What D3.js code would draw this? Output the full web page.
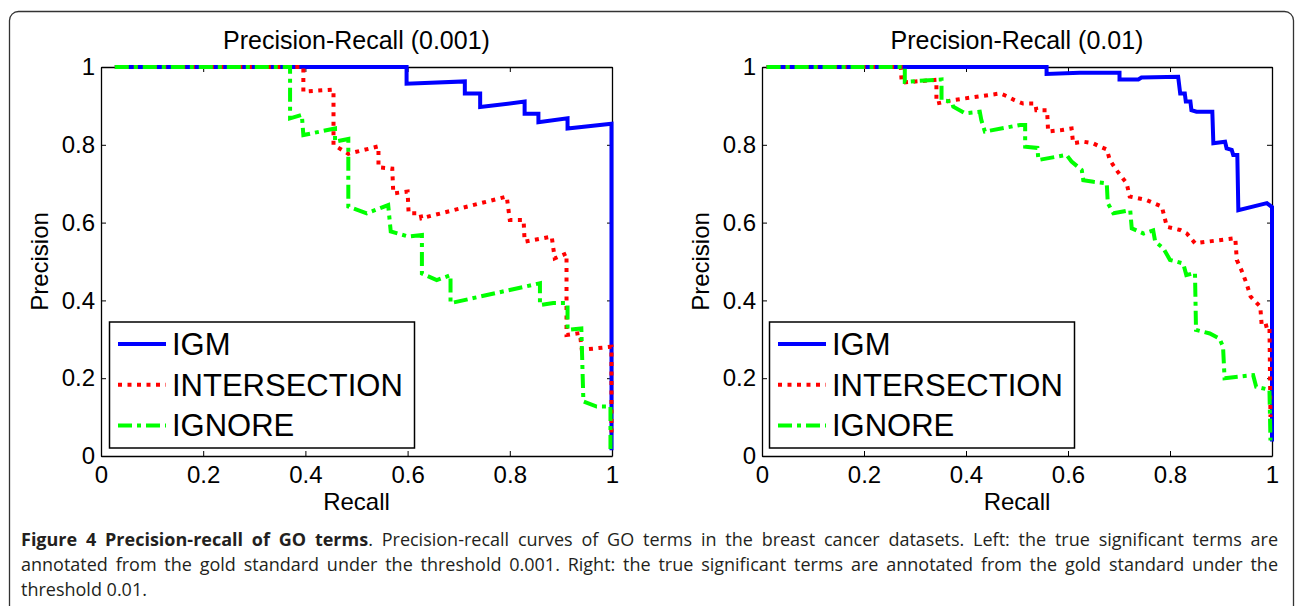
<!DOCTYPE html>
<html>
<head>
<meta charset="utf-8">
<script src="https://cdn.jsdelivr.net/npm/d3@7"></script>
<style>
  body { margin: 0; background: #fff; }
  svg { position: absolute; left: 0; top: 0; }
  #caption { position: absolute; left: 21px; top: 527px; width: 1257px;
             font-family: "Open Sans", sans-serif; font-size: 18px; line-height: 25px; color: #231f20; }
  #caption div { white-space: nowrap; }
  #caption .j { text-align: justify; text-align-last: justify; }
  #caption b { font-weight: 700; }
</style>
</head>
<body>
<svg id="chart" width="1296" height="606"></svg>
<div id="caption"></div>
<script>
// ---------------- data ----------------
const seriesNames = ["IGM", "INTERSECTION", "IGNORE"];
const titles = ["Precision-Recall (0.001)", "Precision-Recall (0.01)"];
const xLabel = "Recall";
const yLabel = "Precision";
const tickValues = [0, 0.2, 0.4, 0.6, 0.8, 1];
const tickLabels = ["0", "0.2", "0.4", "0.6", "0.8", "1"];

// left panel (threshold 0.001): [recall, precision]
const leftIGM = [[0.027,1],[0.598,1],[0.598,0.957],[0.712,0.963],[0.712,0.932],[0.742,0.932],[0.742,0.897],
  [0.829,0.911],[0.829,0.880],[0.856,0.880],[0.856,0.858],[0.913,0.868],[0.913,0.842],[0.999,0.854],[0.999,0.015]];
const leftINT = [[0.027,1],[0.396,1],[0.396,0.937],[0.455,0.942],[0.455,0.800],[0.484,0.777],[0.543,0.796],
  [0.543,0.742],[0.570,0.739],[0.572,0.675],[0.600,0.680],[0.602,0.624],[0.625,0.624],[0.627,0.611],
  [0.794,0.667],[0.800,0.607],[0.827,0.607],[0.829,0.551],[0.882,0.564],[0.888,0.508],[0.911,0.521],
  [0.911,0.311],[0.937,0.316],[0.941,0.273],[0.999,0.281],[0.999,0.05]];
const leftIGN = [[0.027,1],[0.370,1],[0.370,0.868],[0.393,0.877],[0.396,0.825],[0.458,0.842],[0.458,0.808],
  [0.484,0.815],[0.484,0.641],[0.520,0.624],[0.562,0.645],[0.567,0.577],[0.602,0.564],[0.628,0.568],
  [0.628,0.469],[0.657,0.452],[0.684,0.465],[0.684,0.393],[0.859,0.444],[0.859,0.388],[0.885,0.393],
  [0.913,0.393],[0.913,0.324],[0.940,0.328],[0.944,0.140],[0.970,0.127],[0.997,0.127],[0.997,0.016]];

// right panel (threshold 0.01)
const rightIGM = [[0.009,1],[0.558,1],[0.558,0.982],[0.623,0.985],[0.701,0.985],[0.701,0.968],[0.738,0.968],
  [0.744,0.973],[0.816,0.975],[0.820,0.932],[0.829,0.932],[0.831,0.911],[0.840,0.911],[0.842,0.889],
  [0.852,0.885],[0.883,0.885],[0.885,0.804],[0.908,0.808],[0.911,0.791],[0.921,0.787],[0.924,0.774],
  [0.932,0.774],[0.934,0.632],[0.990,0.650],[1,0.640],[1,0.037]];
const rightINT = [[0.009,1],[0.272,1],[0.274,0.960],[0.342,0.967],[0.342,0.906],[0.375,0.915],[0.467,0.932],
  [0.480,0.925],[0.495,0.915],[0.512,0.906],[0.536,0.906],[0.538,0.889],[0.559,0.889],[0.561,0.834],
  [0.588,0.838],[0.607,0.842],[0.610,0.804],[0.630,0.808],[0.649,0.804],[0.665,0.794],[0.676,0.788],
  [0.682,0.761],[0.695,0.735],[0.715,0.701],[0.721,0.667],[0.754,0.658],[0.784,0.641],[0.794,0.589],
  [0.820,0.581],[0.833,0.572],[0.849,0.547],[0.928,0.560],[0.931,0.504],[0.940,0.478],[0.950,0.444],
  [0.958,0.410],[0.977,0.384],[0.980,0.332],[0.995,0.337],[0.997,0.10]];
const rightIGN = [[0.009,1],[0.280,1],[0.280,0.962],[0.352,0.968],[0.352,0.915],[0.372,0.911],[0.375,0.898],
  [0.398,0.881],[0.427,0.885],[0.430,0.864],[0.437,0.834],[0.506,0.851],[0.516,0.851],[0.516,0.795],
  [0.540,0.792],[0.542,0.761],[0.597,0.774],[0.607,0.757],[0.627,0.735],[0.630,0.709],[0.650,0.705],
  [0.676,0.701],[0.678,0.650],[0.689,0.624],[0.722,0.632],[0.725,0.585],[0.748,0.572],[0.767,0.580],
  [0.771,0.551],[0.787,0.534],[0.800,0.504],[0.826,0.495],[0.832,0.465],[0.849,0.471],[0.851,0.324],
  [0.878,0.315],[0.897,0.302],[0.904,0.281],[0.907,0.200],[0.963,0.208],[0.969,0.178],[0.995,0.170],
  [0.997,0.04]];

const captionBold = "Figure 4 Precision-recall of GO terms";
const captionLines = [
  ". Precision-recall curves of GO terms in the breast cancer datasets. Left: the true significant terms are",
  "annotated from the gold standard under the threshold 0.001. Right: the true significant terms are annotated from the gold standard under the",
  "threshold 0.01."
];

// ---------------- styles ----------------
const seriesStyle = [
  { color: "#0000ff", dash: null },
  { color: "#ff0000", dash: "4,5.5" },
  { color: "#00ff00", dash: "14,5,4,5" }
];
const FONT = "'Liberation Sans', Arial, Helvetica, sans-serif";

const svg = d3.select("#chart");

// outer rounded frame
svg.append("rect")
  .attr("x", 9.5).attr("y", 11.5).attr("width", 1284).attr("height", 640)
  .attr("rx", 9).attr("ry", 9)
  .attr("fill", "none").attr("stroke", "#333").attr("stroke-width", 1.3);

const panels = [
  { title: titles[0], x0: 101, x1: 612, data: [leftIGM, leftINT, leftIGN], legendX: 109 },
  { title: titles[1], x0: 762, x1: 1272, data: [rightIGM, rightINT, rightIGN], legendX: 769 }
];
const yTop = 67, yBot = 456;

panels.forEach(p => {
  const x = d3.scaleLinear().domain([0, 1]).range([p.x0, p.x1]);
  const y = d3.scaleLinear().domain([0, 1]).range([yBot, yTop]);
  const g = svg.append("g");

  const styleAxis = sel => {
    sel.select(".domain").attr("stroke", "#000").attr("stroke-width", 1.3);
    sel.selectAll(".tick line").attr("stroke", "#000").attr("stroke-width", 1);
    sel.selectAll(".tick text").attr("fill", "#000").style("font-family", FONT).style("font-size", "24px");
  };

  g.append("g").attr("transform", `translate(0,${yBot})`)
    .call(d3.axisBottom(x).tickValues(tickValues).tickFormat((d, i) => tickLabels[i]).tickSizeInner(-5).tickSizeOuter(0).tickPadding(10))
    .call(styleAxis);
  g.append("g").attr("transform", `translate(0,${yTop})`)
    .call(d3.axisTop(x).tickValues(tickValues).tickFormat("").tickSizeInner(-5).tickSizeOuter(0))
    .call(styleAxis);
  g.append("g").attr("transform", `translate(${p.x0},0)`)
    .call(d3.axisLeft(y).tickValues(tickValues).tickFormat((d, i) => tickLabels[i]).tickSizeInner(-5).tickSizeOuter(0).tickPadding(6))
    .call(styleAxis);
  g.append("g").attr("transform", `translate(${p.x1},0)`)
    .call(d3.axisRight(y).tickValues(tickValues).tickFormat("").tickSizeInner(-5).tickSizeOuter(0))
    .call(styleAxis);

  const cx = (p.x0 + p.x1) / 2;
  g.append("text").attr("x", cx).attr("y", 49).attr("text-anchor", "middle")
    .style("font-family", FONT).style("font-size", "25px").text(p.title);
  g.append("text").attr("x", cx).attr("y", 510).attr("text-anchor", "middle")
    .style("font-family", FONT).style("font-size", "24px").text(xLabel);
  g.append("text").attr("transform", `translate(${p.x0 - 53},${(yTop + yBot) / 2}) rotate(-90)`)
    .attr("text-anchor", "middle")
    .style("font-family", FONT).style("font-size", "24px").text(yLabel);

  const line = d3.line().x(d => x(d[0])).y(d => y(d[1]));
  p.data.forEach((s, i) => {
    g.append("path").attr("d", line(s))
      .attr("fill", "none").attr("stroke", seriesStyle[i].color).attr("stroke-width", 4)
      .attr("stroke-dasharray", seriesStyle[i].dash)
      .attr("stroke-linejoin", "miter").attr("stroke-linecap", "butt");
  });

  // legend
  const lg = g.append("g");
  lg.append("rect").attr("x", p.legendX + 0.5).attr("y", 322).attr("width", 305).attr("height", 126)
    .attr("fill", "#fff").attr("stroke", "#000").attr("stroke-width", 1.5);
  seriesNames.forEach((name, i) => {
    const ly = 344 + i * 40.7;
    lg.append("line").attr("x1", p.legendX + 9).attr("x2", p.legendX + 57).attr("y1", ly).attr("y2", ly)
      .attr("stroke", seriesStyle[i].color).attr("stroke-width", 4).attr("stroke-dasharray", seriesStyle[i].dash);
    lg.append("text").attr("x", p.legendX + 63).attr("y", ly + 11)
      .style("font-family", FONT).style("font-size", "31px").text(name);
  });
});

// caption
const cap = d3.select("#caption");
const l1 = cap.append("div").attr("class", "j");
l1.append("b").text(captionBold);
l1.append("span").text(captionLines[0]);
cap.append("div").attr("class", "j").text(captionLines[1]);
cap.append("div").text(captionLines[2]);
</script>
</body>
</html>
